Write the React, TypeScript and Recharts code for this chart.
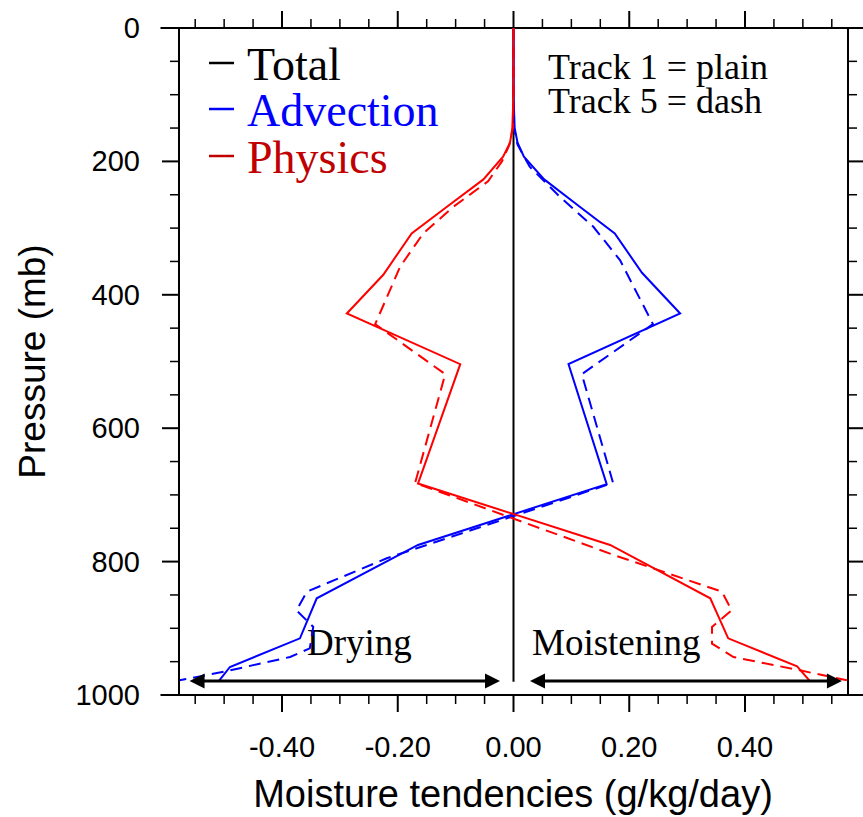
import React from 'react';
import { LineChart, Line, XAxis, YAxis, ReferenceLine } from 'recharts';

// axis ticks
const pressureMajorTicks = [0, 200, 400, 600, 800, 1000];
const pressureMinorTicks = [50, 100, 150, 250, 300, 350, 450, 500, 550, 650, 700, 750, 850, 900, 950];
const tendencyMajorTicks = [-0.4, -0.2, 0, 0.2, 0.4];
const tendencyMinorTicks = [
  -0.55, -0.5, -0.45, -0.35, -0.3, -0.25, -0.15, -0.1, -0.05,
  0.05, 0.1, 0.15, 0.25, 0.3, 0.35, 0.45, 0.5, 0.55,
];

// Total (both tracks)
const totalP = [0, 980];
const totalV = [0, 0];

// Advection, track 1 (plain)
const advection1P = [0, 100, 150, 172, 193, 227, 265, 308, 367, 428, 504, 684, 775, 855, 915, 958, 980];
const advection1V = [0, 0, 0.002, 0.007, 0.018, 0.053, 0.11, 0.175, 0.222, 0.288, 0.095, 0.161, -0.165, -0.34, -0.369, -0.49, -0.51];

// Advection, track 5 (dash)
const advection5P = [0, 100, 150, 175, 208, 253, 298, 348, 444, 519, 682, 795, 845, 873, 898, 930, 943, 965, 978];
const advection5V = [0, 0, 0.001, 0.007, 0.028, 0.08, 0.138, 0.184, 0.241, 0.118, 0.172, -0.219, -0.357, -0.375, -0.346, -0.352, -0.386, -0.5, -0.577];

// Physics, track 1 (plain)
const physics1P = [0, 100, 150, 172, 193, 227, 268, 308, 370, 428, 504, 683, 775, 855, 915, 957, 980];
const physics1V = [0, 0, -0.002, -0.006, -0.018, -0.052, -0.115, -0.176, -0.225, -0.288, -0.092, -0.165, 0.167, 0.34, 0.371, 0.49, 0.513];

// Physics, track 5 (dash)
const physics5P = [0, 100, 150, 175, 200, 230, 268, 308, 358, 444, 519, 682, 790, 845, 873, 898, 923, 943, 963, 978];
const physics5V = [0, 0, -0.001, -0.007, -0.02, -0.044, -0.104, -0.156, -0.196, -0.239, -0.118, -0.17, 0.173, 0.36, 0.377, 0.343, 0.343, 0.38, 0.495, 0.576];

const toRows = (ps: number[], vs: number[]) => ps.map((p, i) => ({ p, v: vs[i] }));

const total = toRows(totalP, totalV);
const advection1 = toRows(advection1P, advection1V);
const advection5 = toRows(advection5P, advection5V);
const physics1 = toRows(physics1P, physics1V);
const physics5 = toRows(physics5P, physics5V);

const xTicks = [...tendencyMajorTicks, ...tendencyMinorTicks].sort((a, b) => a - b);
const yTicks = [...pressureMajorTicks, ...pressureMinorTicks].sort((a, b) => a - b);

const SANS = '"Liberation Sans", Arial, Helvetica, sans-serif';
const SERIF = '"Liberation Serif", "Times New Roman", serif';
const MAJOR = 17;
const MINOR = 9;
const DASH = '12 7';

const BottomTick = (props: any) => {
  const { x, y, payload } = props;
  const major = tendencyMajorTicks.includes(payload.value);
  return (
    <g>
      <line x1={x} y1={y} x2={x} y2={y + (major ? MAJOR : MINOR)} stroke="#000" strokeWidth={major ? 2 : 1.5} />
      {major && (
        <text x={x} y={y + 62} textAnchor="middle" fontSize={29} fontFamily={SANS} fill="#000">
          {Number(payload.value).toFixed(2)}
        </text>
      )}
    </g>
  );
};

const TopTick = (props: any) => {
  const { x, y, payload } = props;
  const major = tendencyMajorTicks.includes(payload.value);
  return <line x1={x} y1={y} x2={x} y2={y - (major ? MAJOR : MINOR)} stroke="#000" strokeWidth={major ? 2 : 1.5} />;
};

const LeftTick = (props: any) => {
  const { x, y, payload } = props;
  const major = pressureMajorTicks.includes(payload.value);
  return (
    <g>
      <line x1={x} y1={y} x2={x - (major ? MAJOR : MINOR)} y2={y} stroke="#000" strokeWidth={major ? 2 : 1.5} />
      {major && (
        <text x={x - 39} y={y + 10} textAnchor="end" fontSize={29} fontFamily={SANS} fill="#000">
          {payload.value}
        </text>
      )}
    </g>
  );
};

const RightTick = (props: any) => {
  const { x, y, payload } = props;
  const major = pressureMajorTicks.includes(payload.value);
  return <line x1={x} y1={y} x2={x + (major ? MAJOR : MINOR)} y2={y} stroke="#000" strokeWidth={major ? 2 : 1.5} />;
};

// double headed arrow drawn between the segment ends
const arrowShape = (props: any) => {
  const { x1, y1, x2, y2 } = props;
  const h = 15;
  const w = 7.5;
  return (
    <g>
      <line x1={x1 + h - 2} y1={y1} x2={x2 - h + 2} y2={y2} stroke="#000" strokeWidth={3} />
      <polygon points={`${x1},${y1} ${x1 + h},${y1 - w} ${x1 + h},${y1 + w}`} fill="#000" />
      <polygon points={`${x2},${y2} ${x2 - h},${y2 - w} ${x2 - h},${y2 + w}`} fill="#000" />
    </g>
  );
};

const X_DOMAIN: [number, number] = [-0.578, 0.578];

export default function App() {
  return (
    <div style={{ position: 'absolute', left: 0, top: 0, width: 863, height: 817, background: '#fff' }}>
      <LineChart width={863} height={817} layout="vertical" margin={{ top: 0, right: 0, bottom: 0, left: 0 }}>
        <XAxis
          xAxisId="bottom"
          type="number"
          orientation="bottom"
          domain={X_DOMAIN}
          allowDataOverflow
          ticks={xTicks}
          interval={0}
          height={122}
          tickSize={0}
          tickMargin={0}
          axisLine={false}
          tickLine={false}
          tick={BottomTick}
        />
        <XAxis
          xAxisId="top"
          type="number"
          orientation="top"
          domain={X_DOMAIN}
          allowDataOverflow
          ticks={xTicks}
          interval={0}
          height={28}
          tickSize={0}
          tickMargin={0}
          axisLine={false}
          tickLine={false}
          tick={TopTick}
        />
        <YAxis
          yAxisId="left"
          type="number"
          dataKey="p"
          orientation="left"
          domain={[0, 1000]}
          allowDataOverflow
          ticks={yTicks}
          interval={0}
          width={179}
          tickSize={0}
          tickMargin={0}
          axisLine={{ stroke: '#000', strokeWidth: 2 }}
          tickLine={false}
          tick={LeftTick}
        />
        <YAxis
          yAxisId="right"
          type="number"
          dataKey="p"
          orientation="right"
          domain={[0, 1000]}
          allowDataOverflow
          ticks={yTicks}
          interval={0}
          width={15}
          tickSize={0}
          tickMargin={0}
          axisLine={{ stroke: '#000', strokeWidth: 2 }}
          tickLine={false}
          tick={RightTick}
        />

        {/* top and bottom frame lines, running past the box like the original */}
        <ReferenceLine xAxisId="bottom" yAxisId="left" segment={[{ x: -0.61, y: 0 }, { x: 0.61, y: 0 }]} stroke="#000" strokeWidth={2} ifOverflow="visible" />
        <ReferenceLine xAxisId="bottom" yAxisId="left" segment={[{ x: -0.61, y: 1000 }, { x: 0.61, y: 1000 }]} stroke="#000" strokeWidth={2} ifOverflow="visible" />

        <Line xAxisId="bottom" yAxisId="left" data={total} dataKey="v" stroke="#000" strokeWidth={2} dot={false} activeDot={false} isAnimationActive={false} />
        <Line xAxisId="bottom" yAxisId="left" data={advection1} dataKey="v" stroke="#0000ff" strokeWidth={2} dot={false} activeDot={false} isAnimationActive={false} />
        <Line xAxisId="bottom" yAxisId="left" data={advection5} dataKey="v" stroke="#0000ff" strokeWidth={2} strokeDasharray={DASH} dot={false} activeDot={false} isAnimationActive={false} />
        <Line xAxisId="bottom" yAxisId="left" data={physics1} dataKey="v" stroke="#ff0000" strokeWidth={2} dot={false} activeDot={false} isAnimationActive={false} />
        <Line xAxisId="bottom" yAxisId="left" data={physics5} dataKey="v" stroke="#ff0000" strokeWidth={2} strokeDasharray={DASH} dot={false} activeDot={false} isAnimationActive={false} />

        {/* drying / moistening arrows */}
        <ReferenceLine xAxisId="bottom" yAxisId="left" segment={[{ x: -0.5597, y: 979 }, { x: -0.0233, y: 979 }]} ifOverflow="visible" shape={arrowShape} />
        <ReferenceLine xAxisId="bottom" yAxisId="left" segment={[{ x: 0.0285, y: 979 }, { x: 0.5675, y: 979 }]} ifOverflow="visible" shape={arrowShape} />

        {/* legend */}
        <line x1={209} y1={63} x2={234} y2={63} stroke="#000" strokeWidth={2.5} />
        <text x={247} y={80} fontSize={46} fontFamily={SERIF} fill="#000">Total</text>
        <line x1={209} y1={109} x2={234} y2={109} stroke="#0000ff" strokeWidth={2.5} />
        <text x={247} y={126} fontSize={46} fontFamily={SERIF} fill="#0000ff">Advection</text>
        <line x1={209} y1={156} x2={234} y2={156} stroke="#c00000" strokeWidth={2.5} />
        <text x={247} y={173} fontSize={46} fontFamily={SERIF} fill="#c00000">Physics</text>

        <text x={548} y={79} fontSize={36} fontFamily={SERIF} fill="#000">Track 1 = plain</text>
        <text x={548} y={113} fontSize={36} fontFamily={SERIF} fill="#000">Track 5 = dash</text>

        <text x={307} y={655} fontSize={37} fontFamily={SERIF} fill="#000">Drying</text>
        <text x={532} y={655} fontSize={37} fontFamily={SERIF} fill="#000">Moistening</text>

        {/* axis titles */}
        <text transform="translate(45,361.5) rotate(-90)" textAnchor="middle" fontSize={37} fontFamily={SANS} fill="#000">
          Pressure (mb)
        </text>
        <text x={513} y={807} textAnchor="middle" fontSize={38} fontFamily={SANS} fill="#000">
          Moisture tendencies (g/kg/day)
        </text>
      </LineChart>
    </div>
  );
}
